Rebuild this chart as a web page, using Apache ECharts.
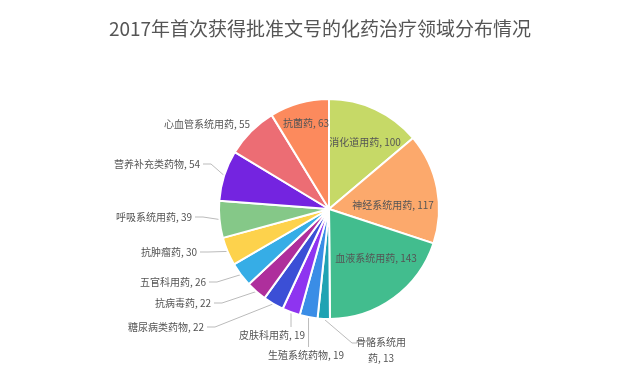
<!DOCTYPE html>
<html>
<head>
<meta charset="utf-8">
<script src="https://cdn.jsdelivr.net/npm/echarts@6/dist/echarts.min.js"></script>
<style>
  html, body { margin: 0; padding: 0; background: #fff; }
  #chart { width: 640px; height: 370px; }
</style>
</head>
<body>
<div id="chart"></div>
<script>
// 治疗领域 & 数量（顺时针，从12点开始）
var names = ['消化道用药', '神经系统用药', '血液系统用药', '骨骼系统用药', '生殖系统药物', '皮肤科用药',
  '糖尿病类药物', '抗病毒药', '五官科用药', '抗肿瘤药', '呼吸系统用药', '营养补充类药物', '心血管系统用药', '抗菌药']
var values = [100, 117, 143, 13, 19, 19, 22, 22, 26, 30, 39, 54, 55, 63]
var colors = ['#c6d967', '#fca96c', '#42bd8e', '#1fa3b3', '#3a8de6', '#8e34f0',
  '#3b4fd6', '#ae2f9c', '#36ade6', '#fdd24c', '#85c888', '#7424e0', '#ec6d74', '#fc8a5d']

// 标签摆放位置（手动调整，参照原图）
var labelPos = {
  '抗菌药': { x: 306, y: 123, align: 'center', line: 'none' },
  '消化道用药': { x: 365, y: 142, align: 'center', line: 'none' },
  '神经系统用药': { x: 393, y: 205, align: 'center', line: 'none' },
  '血液系统用药': { x: 376, y: 258, align: 'center', line: 'none' },
  '心血管系统用药': { x: 250, y: 124, align: 'right', line: 'none' },
  '营养补充类药物': { x: 200, y: 164, align: 'right', line: 'left' },
  '呼吸系统用药': { x: 192, y: 217, align: 'right', line: 'left' },
  '抗肿瘤药': { x: 197, y: 252, align: 'right', line: 'left' },
  '五官科用药': { x: 206, y: 282, align: 'right', line: 'left' },
  '抗病毒药': { x: 211, y: 303, align: 'right', line: 'left' },
  '糖尿病类药物': { x: 204, y: 327, align: 'right', line: 'left' },
  '皮肤科用药': { x: 272, y: 335, align: 'center', line: 'down' },
  '生殖系统药物': { x: 306, y: 355, align: 'center', line: 'down' },
  '骨骼系统用药': { x: 381, y: 350, align: 'center', line: 'elbow' }
}

var chart = echarts.init(document.getElementById('chart'))

var data = names.map(function (n, i) {
  var item = { name: n, value: values[i], itemStyle: { color: colors[i] } }
  if (labelPos[n].line === 'none') {
    item.labelLine = { show: false }
  }
  if (n === '骨骼系统用药') {
    item.label = { formatter: '骨骼系统用\n药, {c}', lineHeight: 16 }
  }
  return item
})

var option = {
  title: {
    text: '2017年首次获得批准文号的化药治疗领域分布情况',
    left: 'center',
    top: 14,
    textStyle: { color: '#555', fontSize: 19, fontWeight: 'normal', fontFamily: 'Noto Sans CJK SC' }
  },
  series: [
    {
      type: 'pie',
      center: [329, 209],
      radius: 110,
      startAngle: 90,
      clockwise: true,
      avoidLabelOverlap: false,
      itemStyle: { borderColor: '#fff', borderWidth: 2 },
      label: {
        formatter: '{b}, {c}',
        color: '#555',
        fontSize: 10,
        fontFamily: 'Noto Sans CJK SC'
      },
      labelLine: {
        length: 10,
        length2: 10,
        lineStyle: { color: '#bbb', width: 1 }
      },
      labelLayout: function (p) {
        var pos = labelPos[names[p.dataIndex]]
        var res = { x: pos.x, y: pos.y, align: pos.align, verticalAlign: 'middle', hideOverlap: false }
        var pts = p.labelLinePoints
        if (pts && pts.length) {
          var s = pts[0]
          if (pos.line === 'left') {
            res.labelLinePoints = [s, [pos.x + 11, pos.y], [pos.x + 3, pos.y]]
          } else if (pos.line === 'down') {
            res.labelLinePoints = [s, [s[0], pos.y - 8], [s[0], pos.y - 8]]
          } else if (pos.line === 'elbow') {
            res.labelLinePoints = [s, [pos.x - 29, pos.y - 7], [pos.x - 24, pos.y - 7]]
          }
        }
        return res
      },
      data: data
    }
  ]
}
chart.setOption(option)
</script>
</body>
</html>
